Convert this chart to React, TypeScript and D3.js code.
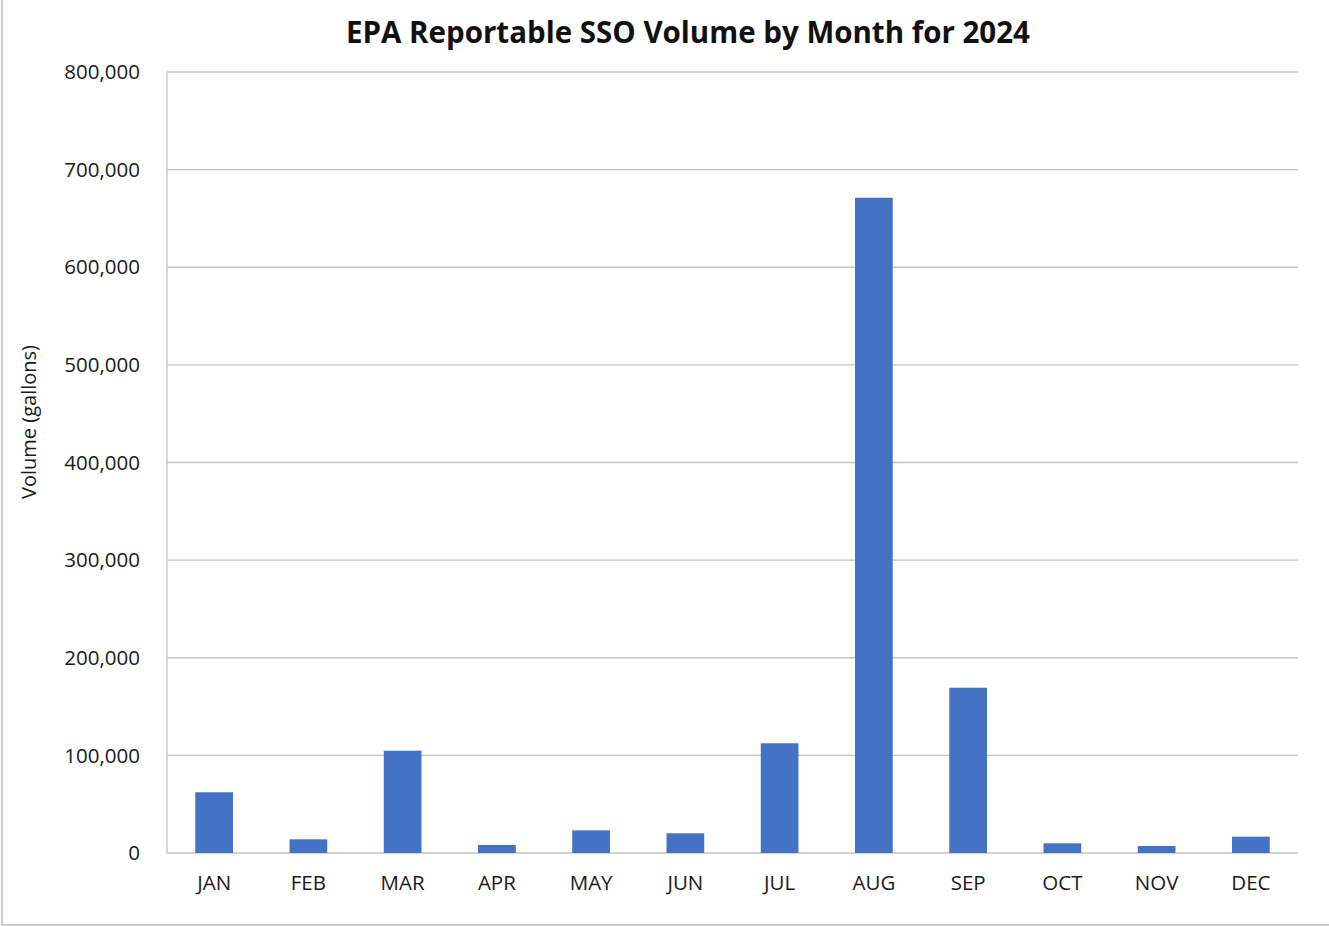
import React, { useEffect, useRef } from "react";
import * as d3 from "d3";

const months = ["JAN", "FEB", "MAR", "APR", "MAY", "JUN", "JUL", "AUG", "SEP", "OCT", "NOV", "DEC"];
const volumes = [62200, 14000, 104800, 8200, 23200, 20200, 112400, 671200, 169300, 9900, 7200, 16700];
const yTicks = [0, 100000, 200000, 300000, 400000, 500000, 600000, 700000, 800000];

const chartTitle = "EPA Reportable SSO Volume by Month for 2024";
const yTitle = "Volume (gallons)";

export default function App() {
  const svgRef = useRef<SVGSVGElement>(null);

  useEffect(() => {
    const svg = d3.select(svgRef.current);
    svg.selectAll("*").remove();

    const width = 1329, height = 926;
    const left = 167, right = 1298, top = 72, bottom = 853;
    const font = "'Open Sans', sans-serif";

    svg.attr("width", width).attr("height", height);

    svg.append("rect")
      .attr("width", width).attr("height", height)
      .attr("fill", "#fff");

    // outer frame (left + bottom visible)
    svg.append("path")
      .attr("d", `M2,0V925H${width}`)
      .attr("fill", "none")
      .attr("stroke", "#bdbdbd")
      .attr("stroke-width", 1.5);

    const x = d3.scaleBand()
      .domain(months)
      .range([left, right])
      .paddingInner(0.6)
      .paddingOuter(0.3);

    const y = d3.scaleLinear()
      .domain([0, 800000])
      .range([bottom, top]);

    // gridlines
    svg.append("g")
      .selectAll("line")
      .data(yTicks)
      .enter()
      .append("line")
      .attr("x1", left).attr("x2", right)
      .attr("y1", d => y(d)).attr("y2", d => y(d))
      .attr("stroke", "#c4c4c4")
      .attr("stroke-width", 1.3);

    svg.append("line")
      .attr("x1", left).attr("x2", left)
      .attr("y1", top).attr("y2", bottom)
      .attr("stroke", "#c4c4c4")
      .attr("stroke-width", 1.3);

    // tick labels
    svg.append("g")
      .selectAll("text")
      .data(yTicks)
      .enter()
      .append("text")
      .attr("x", 140)
      .attr("y", d => y(d))
      .attr("dy", "0.35em")
      .attr("text-anchor", "end")
      .style("font-family", font)
      .style("font-size", "20.5px")
      .attr("fill", "#1a1a1a")
      .text(d => d3.format(",")(d));

    // bars
    svg.append("g")
      .selectAll("rect")
      .data(volumes)
      .enter()
      .append("rect")
      .attr("x", (d, i) => x(months[i]))
      .attr("y", d => y(d))
      .attr("width", x.bandwidth())
      .attr("height", d => bottom - y(d))
      .attr("fill", "#4472C4");

    // month labels
    svg.append("g")
      .selectAll("text")
      .data(months)
      .enter()
      .append("text")
      .attr("x", d => x(d) + x.bandwidth() / 2)
      .attr("y", 883)
      .attr("dy", "0.35em")
      .attr("text-anchor", "middle")
      .style("font-family", font)
      .style("font-size", "20.5px")
      .attr("fill", "#1a1a1a")
      .text(d => d);

    svg.append("text")
      .attr("x", 688)
      .attr("y", 33)
      .attr("dy", "0.35em")
      .attr("text-anchor", "middle")
      .style("font-family", font)
      .style("font-size", "29.5px")
      .style("font-weight", "bold")
      .attr("fill", "#111")
      .text(chartTitle);

    svg.append("text")
      .attr("transform", "translate(29,422) rotate(-90)")
      .attr("dy", "0.35em")
      .attr("text-anchor", "middle")
      .style("font-family", font)
      .style("font-size", "20px")
      .attr("fill", "#1a1a1a")
      .text(yTitle);
  }, []);

  return (
    <svg ref={svgRef} style={{ position: "absolute", left: 0, top: 0, display: "block" }}></svg>
  );
}
